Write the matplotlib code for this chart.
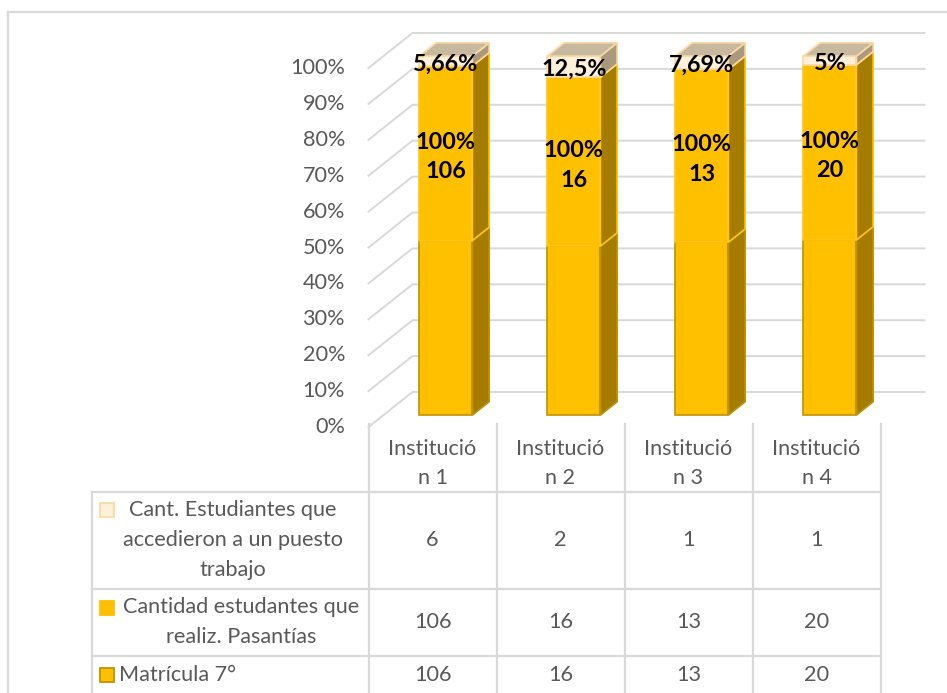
import matplotlib
matplotlib.use('Agg')
import matplotlib.pyplot as plt
from matplotlib.patches import Polygon

# ---------------- data ----------------
categories = ['Institución 1', 'Institución 2', 'Institución 3', 'Institución 4']
legend_labels = ['Cant. Estudiantes que\naccedieron a un puesto\ntrabajo',
                 'Cantidad estudantes que\nrealiz. Pasantías',
                 'Matrícula 7°']
accedieron = [6, 2, 1, 1]
pasantias = [106, 16, 13, 20]
matricula = [106, 16, 13, 20]
top_labels = ['5,66%', '12,5%', '7,69%', '5%']
mid_pct = ['100%', '100%', '100%', '100%']
yticks = [0, 10, 20, 30, 40, 50, 60, 70, 80, 90, 100]

# ---------------- style ----------------
FONT = 'Lato'
plt.rcParams['font.family'] = [FONT, 'DejaVu Sans']
GREY = '#595959'
GRID = '#D9D9D9'
GOLD = '#FFC000'
GOLD_EDGE = '#C29200'
GOLD_SIDE = '#A67C00'
CREAM = '#FFF0DA'
CREAM_EDGE = '#FFD9A3'
CREAM_SIDE = '#A99A7E'
CREAM_TOP = '#C6B9A0'
FS = 15.6      # regular text size
FSB = 16.8     # bold label size

W, H = 947, 693
fig = plt.figure(figsize=(W / 100, H / 100), dpi=100)
ax = fig.add_axes([0, 0, 1, 1])
PX, PY = 128.0, 3.59          # pixels per category / per percent
X0, Y0 = 432.5, 427.0         # pixel position of category 0, 0% (front plane)
ax.set_xlim(-X0 / PX, (W - X0) / PX)
ax.set_ylim((Y0 - H) / PY, Y0 / PY)
ax.axis('off')

DX, DY = 44 / PX, 35 / PY     # oblique depth offset per depth unit


def P(x, y, z):
    return (x + DX * z, y + DY * z)


def px_x(p):
    return (p - X0) / PX


def px_y(p):
    return (Y0 - p) / PY


n = len(categories)

# chart border
ax.plot([px_x(8), px_x(W + 5)], [px_y(12), px_y(12)], color=GRID, lw=1.6, zorder=0)
ax.plot([px_x(8), px_x(8)], [px_y(12), px_y(H + 5)], color=GRID, lw=1.6, zorder=0)

# gridlines: left wall diagonal + back wall
for t in yticks:
    a = P(-0.5, t, 0)
    b = P(-0.5, t, 1)
    c = P(n - 0.5, t, 1)
    ax.plot([a[0], b[0], c[0]], [a[1], b[1], c[1]], color=GRID, lw=1.4, zorder=1)
    ax.text(px_x(345), t, f'{t}%', ha='right', va='center', color=GREY,
            fontsize=FS, zorder=5)

# bars
zf, zb = 0.34, 0.72
hw = 0.207
for i in range(n):
    tot = matricula[i] + pasantias[i] + accedieron[i]
    segs = [(matricula[i] / tot * 100, GOLD, GOLD_EDGE, GOLD_SIDE),
            (pasantias[i] / tot * 100, GOLD, '#FFC61A', GOLD_SIDE),
            (accedieron[i] / tot * 100, CREAM, CREAM_EDGE, CREAM_SIDE)]
    xc = i - 0.012
    bottom = 0.0
    bounds = []
    for h, fc, ec, sc in segs:
        fx, fy = P(xc, bottom, zf)
        ax.bar(fx, h, bottom=fy, width=2 * hw, color=fc, edgecolor=ec,
               linewidth=1.2, zorder=3)
        side = [P(xc + hw, bottom, zf), P(xc + hw, bottom, zb),
                P(xc + hw, bottom + h, zb), P(xc + hw, bottom + h, zf)]
        ax.add_patch(Polygon(side, closed=True, facecolor=sc, edgecolor=ec,
                             linewidth=1.2, zorder=3))
        bounds.append((bottom, bottom + h))
        bottom += h
    top = [P(xc - hw, bottom, zf), P(xc + hw, bottom, zf),
           P(xc + hw, bottom, zb), P(xc - hw, bottom, zb)]
    ax.add_patch(Polygon(top, closed=True, facecolor=CREAM_TOP,
                         edgecolor=CREAM_EDGE, linewidth=1.2, zorder=3))
    # labels
    lx, ly = P(xc, sum(bounds[1]) / 2, zf)
    ax.text(lx, ly - 1.0, f'{mid_pct[i]}\n{pasantias[i]}', ha='center',
            va='center', fontsize=FSB, fontweight='bold', color='black',
            linespacing=1.5, zorder=6)
    tx, ty = P(xc, sum(bounds[2]) / 2, zf)
    ax.text(tx, ty - 0.8, top_labels[i], ha='center', va='center',
            fontsize=FSB, fontweight='bold', color='black', zorder=6)

# ---------------- data table ----------------
TL = GRID
row_lines = [492, 589, 656]
for r in row_lines:
    ax.plot([px_x(92), n - 0.5], [px_y(r), px_y(r)], color=TL, lw=1.6, zorder=1)
for k in range(n + 1):
    ax.plot([k - 0.5, k - 0.5], [px_y(424), px_y(H + 5)], color=TL, lw=1.6, zorder=1)
ax.plot([px_x(92), px_x(92)], [px_y(492), px_y(H + 5)], color=TL, lw=1.6, zorder=1)

for i, c in enumerate(categories):
    ax.text(i, px_y(463.5), c[:10] + '\n' + c[10:], ha='center', va='center',
            color=GREY, fontsize=FS, linespacing=1.62)

rows = [accedieron, pasantias, matricula]
row_y = [540, 622, 675]
for vals, ry in zip(rows, row_y):
    for i, v in enumerate(vals):
        ax.text(i, px_y(ry), str(v), ha='center', va='center', color=GREY,
                fontsize=FS)

# legend keys inside the table
key_styles = [(CREAM, CREAM_EDGE), (GOLD, GOLD), (GOLD, GOLD_EDGE)]
key_y = [510, 607.5, 675]
for (fc, ec), ky in zip(key_styles, key_y):
    ax.bar(px_x(107), 14 / PY, bottom=px_y(ky + 7), width=14 / PX, color=fc,
           edgecolor=ec, linewidth=1.3, zorder=3)

ax.text(px_x(233), px_y(540), legend_labels[0], ha='center', va='center',
        color=GREY, fontsize=FS, linespacing=1.6)
ax.text(px_x(241), px_y(622), legend_labels[1], ha='center', va='center',
        color=GREY, fontsize=FS, linespacing=1.6)
ax.text(px_x(119), px_y(675), legend_labels[2], ha='left', va='center',
        color=GREY, fontsize=FS)

fig.savefig('out.png', dpi=100)
